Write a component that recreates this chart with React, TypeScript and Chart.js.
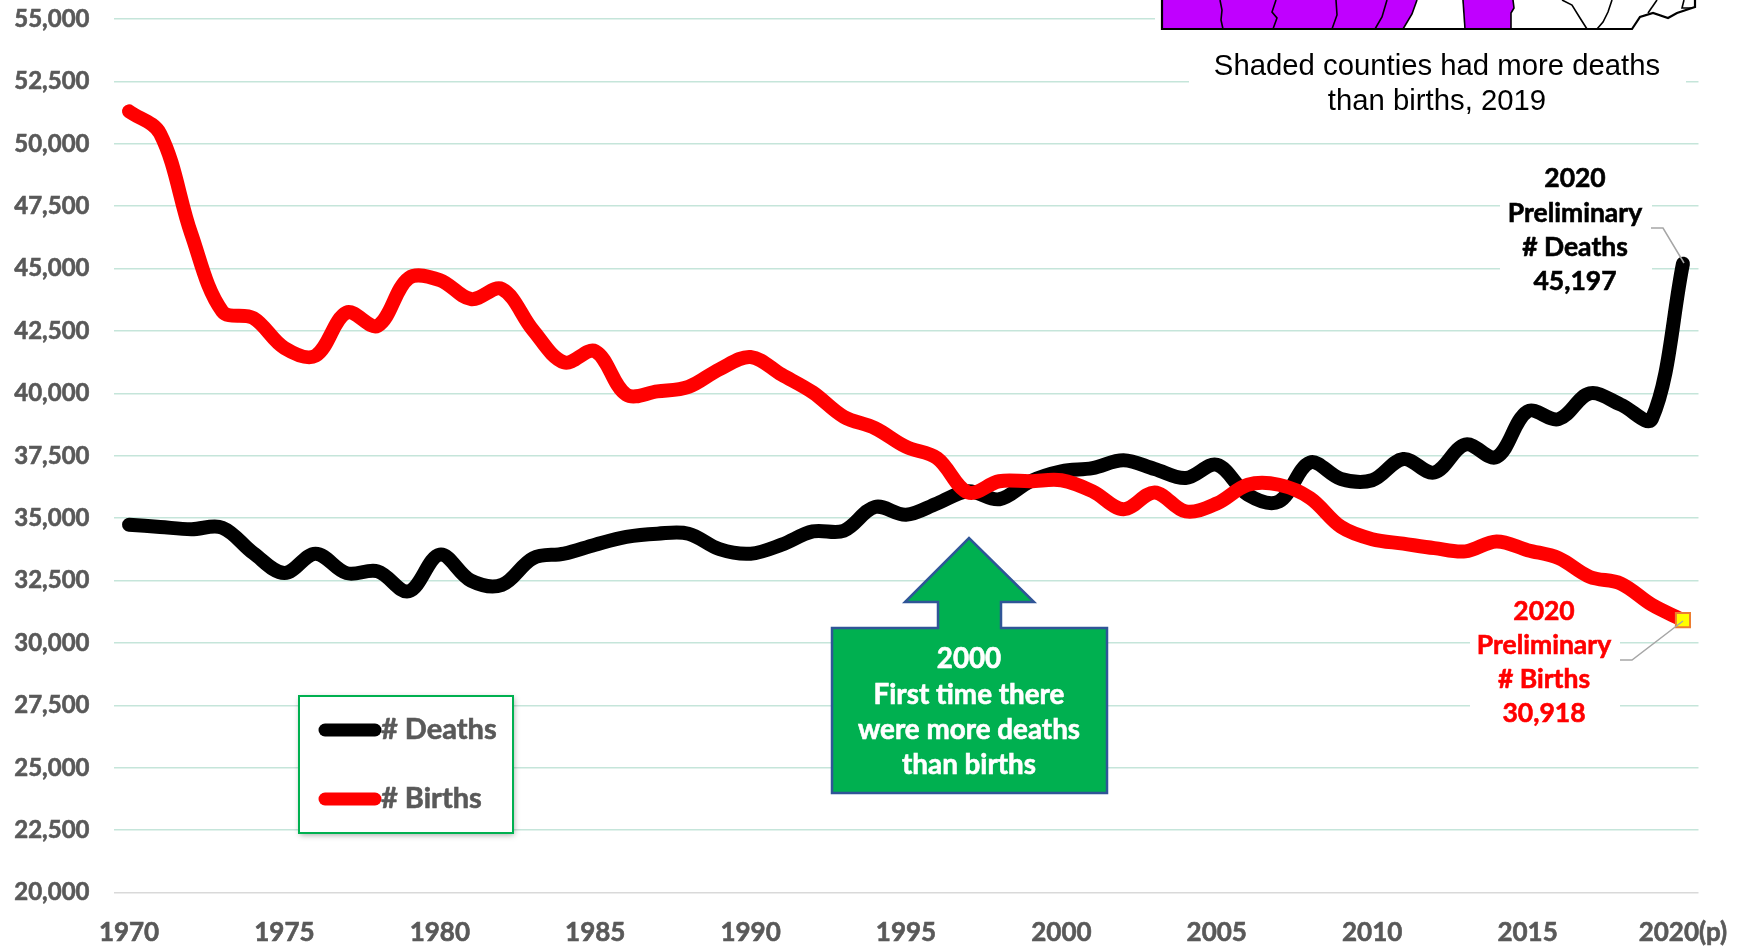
import React, { useEffect, useRef } from "react";
import { Chart, registerables } from "chart.js";

Chart.register(...registerables);

const years = ["1970","1971","1972","1973","1974","1975","1976","1977","1978","1979","1980","1981","1982","1983","1984","1985","1986","1987","1988","1989","1990","1991","1992","1993","1994","1995","1996","1997","1998","1999","2000","2001","2002","2003","2004","2005","2006","2007","2008","2009","2010","2011","2012","2013","2014","2015","2016","2017","2018","2019","2020(p)"];
const deaths = [34740,34650,34560,34620,33600,32800,33580,32800,32870,32070,33540,32500,32330,33400,33580,33940,34250,34380,34380,33760,33580,33940,34470,34500,35450,35140,35590,36080,35760,36480,36880,37010,37320,36970,36610,37140,35940,35670,37230,36570,36520,37370,36830,37950,37450,39280,38970,40000,39550,38980,45197];
const births = [51300,50410,46400,43290,43020,41820,41510,43240,42710,44620,44540,43780,44180,42530,41240,41690,39950,40080,40260,40970,41460,40750,40040,39060,38610,37860,37410,36030,36480,36480,36520,36080,35360,36030,35270,35590,36340,36340,35810,34650,34160,33980,33800,33670,34070,33720,33400,32650,32380,31530,30918];
const deathLabel = ["2020", "Preliminary", "# Deaths", "45,197"];
const birthLabel = ["2020", "Preliminary", "# Births", "30,918"];
const arrowLabel = ["2000", "First time there", "were more deaths", "than births"];
const caption = ["Shaded counties had more deaths", "than births, 2019"];

const GREY = "#595959";
const FAMILY = "Lato, 'Noto Sans', sans-serif";

function poly(ctx: CanvasRenderingContext2D, pts: number[][], close = false) {
  ctx.beginPath();
  pts.forEach((p, i) => (i ? ctx.lineTo(p[0], p[1]) : ctx.moveTo(p[0], p[1])));
  if (close) ctx.closePath();
}

function centered(ctx: CanvasRenderingContext2D, lines: string[], x: number, ys: number[], color: string, font: string, heavy = 0) {
  ctx.fillStyle = color;
  ctx.strokeStyle = color;
  ctx.lineWidth = heavy;
  ctx.font = font;
  ctx.textAlign = "center";
  ctx.textBaseline = "middle";
  lines.forEach((t, i) => {
    ctx.fillText(t, x, ys[i]);
    if (heavy) ctx.strokeText(t, x, ys[i]);
  });
}

const backdropPlugin = {
  id: "backdrop",
  beforeDatasetsDraw(chart: any) {
    const ctx: CanvasRenderingContext2D = chart.ctx;
    ctx.save();
    ctx.fillStyle = "#fff";
    ctx.fillRect(1155, 0, 560, 32);
    ctx.fillRect(1189, 32, 497, 90);
    ctx.fillRect(1500, 160, 152, 140);
    ctx.fillRect(1470, 600, 150, 130);

    ctx.fillStyle = "#C000FF";
    poly(ctx, [[1162, 0], [1417, 0], [1412, 14], [1403, 29], [1162, 29]], true);
    ctx.fill();
    poly(ctx, [[1463, 0], [1513, 0], [1514, 8], [1511, 13], [1511, 29], [1465, 29]], true);
    ctx.fill();

    ctx.strokeStyle = "#000";
    ctx.lineWidth = 1.6;
    const borders = [
      [[1220, 0], [1222, 10], [1221, 20], [1223, 29]],
      [[1276, 0], [1272, 12], [1277, 18], [1273, 29]],
      [[1336, 0], [1337, 15], [1332, 29]],
      [[1387, 0], [1382, 17], [1375, 29]],
      [[1417, 0], [1412, 14], [1403, 29]],
      [[1463, 0], [1465, 29]],
      [[1513, 0], [1514, 8], [1511, 13], [1511, 29]],
      [[1562, 0], [1572, 5], [1580, 18], [1587, 29]],
      [[1612, 0], [1608, 12], [1603, 22], [1597, 29]],
      [[1657, 0], [1648, 13]],
      [[1684, 0], [1682, 8], [1692, 8]],
    ];
    borders.forEach((b) => { poly(ctx, b); ctx.stroke(); });
    ctx.lineWidth = 2.2;
    poly(ctx, [[1162, 0], [1162, 29], [1632, 29], [1640, 17], [1653, 13], [1668, 18], [1677, 13], [1695, 7], [1695, 0]]);
    ctx.stroke();

    centered(ctx, caption, 1437, [67, 102], "#000", "29.3px 'Liberation Sans', Arial, sans-serif");
    ctx.restore();
  },
  afterDatasetsDraw(chart: any) {
    const ctx: CanvasRenderingContext2D = chart.ctx;
    ctx.save();
    // connectors
    ctx.strokeStyle = "#A6A6A6";
    ctx.lineWidth = 1.5;
    poly(ctx, [[1651, 228], [1663, 228], [1684, 263]]);
    ctx.stroke();
    poly(ctx, [[1620, 660], [1632, 660], [1683, 621]]);
    ctx.stroke();

    centered(ctx, deathLabel, 1575, [178, 213, 247, 281], "#000", `bold 26.5px ${FAMILY}`, 0.6);
    centered(ctx, birthLabel, 1544, [611, 645, 679, 713], "#FF0000", `bold 26.5px ${FAMILY}`, 0.6);

    // arrow callout
    ctx.fillStyle = "#00B050";
    ctx.strokeStyle = "#2F5597";
    ctx.lineWidth = 2.5;
    ctx.lineJoin = "miter";
    poly(ctx, [[832, 628], [938, 628], [938, 602], [905, 602], [969, 538], [1034, 602], [1001, 602], [1001, 628], [1107, 628], [1107, 793], [832, 793]], true);
    ctx.fill();
    ctx.stroke();
    centered(ctx, arrowLabel, 969, [659, 695, 730, 765], "#fff", `bold 27.8px ${FAMILY}`, 0.6);

    // legend
    ctx.save();
    ctx.shadowColor = "rgba(0,0,0,0.35)";
    ctx.shadowBlur = 6;
    ctx.shadowOffsetX = 1;
    ctx.shadowOffsetY = 2;
    ctx.fillStyle = "#fff";
    ctx.fillRect(299, 696, 214, 137);
    ctx.restore();
    ctx.strokeStyle = "#00B050";
    ctx.lineWidth = 2;
    ctx.strokeRect(299, 696, 214, 137);
    const ds = chart.data.datasets;
    [730, 799].forEach((y, i) => {
      ctx.strokeStyle = ds[i].borderColor;
      ctx.lineWidth = 13;
      ctx.lineCap = "round";
      poly(ctx, [[325, y], [375, y]]);
      ctx.stroke();
      ctx.fillStyle = GREY;
      ctx.strokeStyle = GREY;
      ctx.lineWidth = 0.6;
      ctx.lineCap = "butt";
      ctx.font = `bold 29px ${FAMILY}`;
      ctx.textAlign = "left";
      ctx.textBaseline = "middle";
      ctx.fillText(ds[i].label, 381, y);
      ctx.strokeText(ds[i].label, 381, y);
    });
    ctx.restore();
  },
};

function noPadding(s: any) {
  s.paddingTop = 0;
  s.paddingBottom = 0;
  s.paddingLeft = 0;
  s.paddingRight = 0;
}

export default function App() {
  const ref = useRef<HTMLCanvasElement>(null);
  useEffect(() => {
    const lastOnly = (v: any) => years.map((_, i) => (i === years.length - 1 ? v : 0));
    const chart = new Chart(ref.current as HTMLCanvasElement, {
      type: "line",
      data: {
        labels: years,
        datasets: [
          { label: "# Deaths", data: deaths, borderColor: "#000000", backgroundColor: "#000000", borderWidth: 14, tension: 0.35, borderCapStyle: "round", borderJoinStyle: "round", pointRadius: 0, order: 2 },
          { label: "# Births", data: births, borderColor: "#FF0000", backgroundColor: "#FF0000", borderWidth: 14, tension: 0.35, borderCapStyle: "round", borderJoinStyle: "round", pointRadius: lastOnly(10), pointHoverRadius: lastOnly(10), pointStyle: "rect", pointBackgroundColor: "#FFFF00", pointBorderColor: "#ED7D31", pointBorderWidth: 2, order: 1 },
        ],
      },
      options: {
        responsive: false,
        animation: false,
        layout: { padding: { left: 0, right: 44.5, top: 19, bottom: 0 } },
        plugins: { legend: { display: false }, title: { display: false }, tooltip: { enabled: false } },
        scales: {
          x: {
            type: "category",
            offset: true,
            border: { display: false },
            grid: { display: false, drawTicks: false },
            afterFit(s: any) { s.height = 54.4; noPadding(s); },
            ticks: {
              autoSkip: false,
              maxRotation: 0,
              minRotation: 0,
              padding: 24,
              color: GREY,
              textStrokeColor: GREY,
              textStrokeWidth: 0.6,
              font: { family: FAMILY, size: 26, weight: "bold" },
              callback(_v: any, i: number) { return i % 5 === 0 ? years[i] : ""; },
            },
          },
          y: {
            min: 20000,
            max: 55000,
            border: { display: false },
            grid: {
              drawTicks: false,
              lineWidth: 1.5,
              color: (c: any) => (c.tick.value === 20000 ? "#D9D9D9" : "#C5E5DA"),
            },
            afterFit(s: any) { s.width = 113.5; noPadding(s); },
            ticks: {
              stepSize: 2500,
              padding: 24,
              color: GREY,
              textStrokeColor: GREY,
              textStrokeWidth: 0.6,
              font: { family: FAMILY, size: 24, weight: "bold" },
              callback(v: any) { return Number(v).toLocaleString("en-US"); },
            },
          },
        },
      },
      plugins: [backdropPlugin],
    } as any);
    return () => chart.destroy();
  }, []);
  return <canvas ref={ref} width={1743} height={947} style={{ position: "absolute", left: 0, top: 0, display: "block" }} />;
}
